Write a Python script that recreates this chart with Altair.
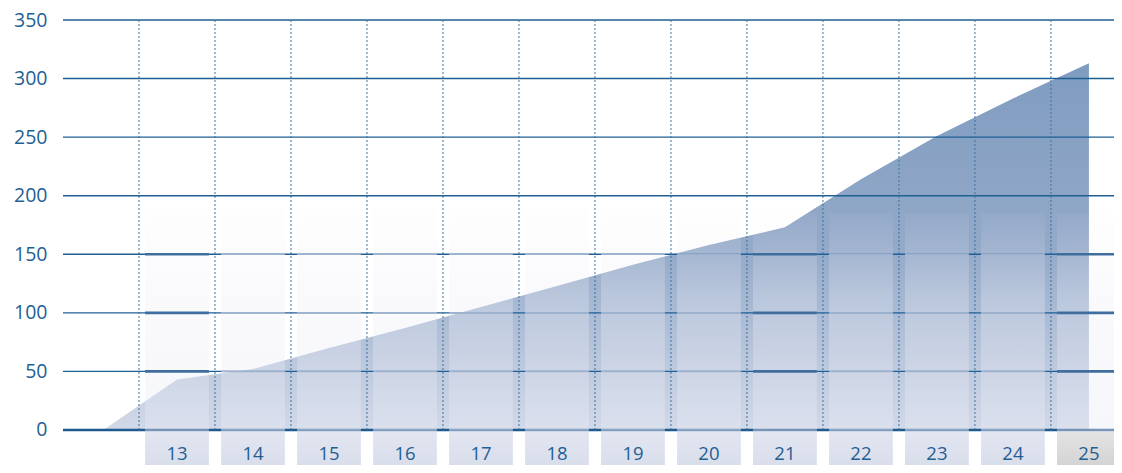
import altair as alt
import pandas as pd

# ---- data ----
area_x = [12.03, 13, 14, 15, 16, 17, 18, 19, 20, 21, 22, 23, 24, 25]
area_y = [0, 43, 52, 70, 87, 105, 123, 141, 158, 173, 214, 251, 283, 313]

categories = [13, 14, 15, 16, 17, 18, 19, 20, 21, 22, 23, 24, 25]
cat_labels = ["13", "14", "15", "16", "17", "18", "19", "20", "21", "22", "23", "24", "25"]
column_tops = [190, 190, 190, 190, 190, 190, 190, 188, 185, 185, 185, 185, 185]
dark_columns = [13, 21, 25]
y_ticks = [0, 50, 100, 150, 200, 250, 300, 350]
segment_levels = [0, 50, 100, 150]

BLUE = "#1f5f94"
FONT = "Open Sans"
X_DOMAIN = [11.5, 25.33]
Y_DOMAIN = [-29.9, 350]
W, H = 1051, 445

xs = alt.Scale(domain=X_DOMAIN, nice=False, zero=False)
ys = alt.Scale(domain=Y_DOMAIN, nice=False, zero=False)
y_axis = alt.Axis(values=y_ticks, grid=False, ticks=False, domain=False,
                  labelFont=FONT, labelFontSize=19.5, labelColor=BLUE,
                  labelPadding=16, title=None)


def Y(field):
    return alt.Y(field, scale=ys, axis=y_axis)


def YD(v):
    return alt.YDatum(v, scale=ys, axis=y_axis)


area_df = pd.DataFrame({"x": area_x, "y": area_y})
cols_df = pd.DataFrame({
    "cat": categories,
    "label": cat_labels,
    "top": column_tops,
})
cols_df["x0"] = cols_df["cat"] - 0.42
cols_df["x1"] = cols_df["cat"] + 0.42
cols_df["sep"] = cols_df["cat"] - 0.5
cols_df["kind"] = ["last" if c == categories[-1] else "normal" for c in categories]

seg_rows = []
for c in categories:
    for v in segment_levels:
        seg_rows.append({"x0": c - 0.42, "x1": c + 0.42, "y": v,
                         "dark": c in dark_columns, "lvl": v})
seg_df = pd.DataFrame(seg_rows)

grid_df = pd.DataFrame({"y": y_ticks})

area_grad = alt.Gradient(
    gradient="linear", x1=0, y1=0, x2=0, y2=1,
    stops=[alt.GradientStop(color="#7f9cc0", offset=0),
           alt.GradientStop(color="#93a9c8", offset=0.5),
           alt.GradientStop(color="#d2d9e8", offset=1)])

X = lambda f: alt.X(f, scale=xs, axis=None)

area = alt.Chart(area_df).mark_area(fill=area_grad, interpolate="linear").encode(
    x=X("x:Q"), y=Y("y:Q"))

grid = alt.Chart(grid_df).mark_rule(color="#1f5f94", strokeWidth=1.4).encode(
    y=Y("y:Q"))
zero_line = alt.Chart(pd.DataFrame({"y": [0]})).mark_rule(
    color="#1f5a8f", strokeWidth=2.6).encode(y=Y("y:Q"))

col_grad = alt.Gradient(
    gradient="linear", x1=0, y1=0, x2=0, y2=1,
    stops=[alt.GradientStop(color="rgba(240,238,248,0.05)", offset=0),
           alt.GradientStop(color="rgba(236,237,246,0.3)", offset=0.4),
           alt.GradientStop(color="rgba(232,234,244,0.38)", offset=1)])

columns = alt.Chart(cols_df).mark_rect(fill=col_grad).encode(
    x=X("x0:Q"), x2="x1:Q", y=Y("top:Q"), y2=alt.datum(0))

seg_light = alt.Chart(seg_df).transform_filter("!datum.dark").mark_rule(
    color="#9fb2cd", strokeWidth=1.6).encode(
    x=X("x0:Q"), x2="x1:Q", y=Y("y:Q"))
seg_dark = alt.Chart(seg_df).transform_filter("datum.dark && datum.lvl > 0").mark_rule(
    color="#3f6e9e", strokeWidth=2.6).encode(
    x=X("x0:Q"), x2="x1:Q", y=Y("y:Q"))
seg_dark0 = alt.Chart(seg_df).transform_filter("datum.dark && datum.lvl == 0").mark_rule(
    color="#7a94b8", strokeWidth=2.2).encode(
    x=X("x0:Q"), x2="x1:Q", y=Y("y:Q"))

dotted = alt.Chart(cols_df).mark_rule(
    color="#3a72a3", strokeWidth=1, strokeDash=[2, 2]).encode(
    x=X("sep:Q"), y=YD(350), y2=alt.datum(0))

box_grad = alt.Gradient(
    gradient="linear", x1=0, y1=0, x2=0, y2=1,
    stops=[alt.GradientStop(color="#e3e6f1", offset=0),
           alt.GradientStop(color="#d9deeb", offset=1)])
box_grad_last = alt.Gradient(
    gradient="linear", x1=0, y1=0, x2=0, y2=1,
    stops=[alt.GradientStop(color="#e4e4e4", offset=0),
           alt.GradientStop(color="#d3d3d3", offset=1)])

boxes = alt.Chart(cols_df).transform_filter("datum.kind == 'normal'").mark_rect(
    fill=box_grad).encode(
    x=X("x0:Q"), x2="x1:Q", y=YD(-1.6), y2=alt.datum(-29.9))
box_last = alt.Chart(cols_df).transform_filter("datum.kind == 'last'").mark_rect(
    fill=box_grad_last).encode(
    x=X("x0:Q"), x2="x1:Q", y=YD(-1.6), y2=alt.datum(-29.9))

labels = alt.Chart(cols_df).mark_text(
    font=FONT, fontSize=18.5, color=BLUE, baseline="middle", align="center").encode(
    x=X("cat:Q"), y=YD(-20.5), text="label:N")

chart = alt.layer(
    area, grid, zero_line, columns, seg_light, seg_dark, seg_dark0,
    dotted, boxes, box_last, labels
).properties(
    width=W, height=H,
    autosize=alt.AutoSizeParams(type="none"),
    padding={"left": 55, "top": 12, "right": 0, "bottom": 0},
    background="white",
).configure_view(stroke=None)

chart.save("out.html", embed_options={"renderer": "svg", "actions": False})
